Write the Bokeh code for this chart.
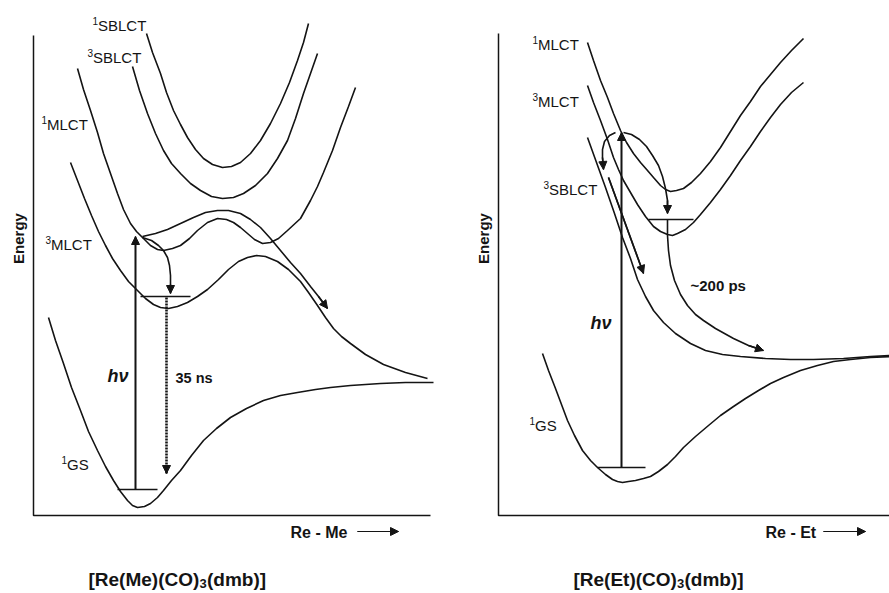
from math import pi

from bokeh.core.properties import value
from bokeh.embed import file_html
from bokeh.layouts import row
from bokeh.models import Arrow, NormalHead, Range1d
from bokeh.plotting import figure
from bokeh.resources import INLINE

FONT = "Liberation Sans"
INK = "#141414"

# ---------------------------------------------------------------------------
# [Re(Me)(CO)3(dmb)]  -- schematic potential curves, coordinate r vs energy E
# ---------------------------------------------------------------------------
me_axis_r = [33, 33, 430]
me_axis_e = [480, 0, 0]

me_1sblct_r = [146, 152, 160, 166, 173, 180, 187, 195, 203, 212, 222, 231, 240, 250, 260, 270, 280, 289, 297, 303, 308]
me_1sblct_e = [482, 463, 442, 423, 405, 391, 378, 366, 357, 351, 348, 349, 353, 362, 375, 392, 412, 433, 455, 473, 492]

me_3sblct_r = [132, 139, 147, 155, 163, 171, 180, 190, 200, 211, 222, 233, 243, 255, 267, 277, 287, 295, 303, 310, 317]
me_3sblct_e = [449, 425, 402, 382, 365, 352, 342, 332, 325, 319, 317, 318, 322, 330, 342, 357, 375, 397, 422, 442, 462]

me_1mlct_r = [77, 83, 90, 97, 103, 110, 117, 123, 130, 136, 142, 150, 157, 163, 172, 180, 189, 197, 207, 217, 226,
              233, 240, 247, 254, 262, 270, 278, 287, 300, 310, 317, 323, 332, 340, 348, 355]
me_1mlct_e = [447, 426, 405, 383, 362, 342, 322, 306, 292, 284, 278, 270, 266, 265, 267, 270, 277, 285, 293, 297, 296,
              293, 288, 282, 276, 272, 273, 277, 285, 297, 315, 329, 343, 365, 388, 409, 428]

me_3mlct_r = [70, 77, 84, 91, 98, 105, 112, 120, 128, 137, 145, 153, 160, 168, 177, 187, 197, 207, 218, 228, 238,
              247, 256, 265, 277, 288, 300, 308, 317, 325, 333, 341, 350, 365, 383, 405, 427]
me_3mlct_e = [353, 335, 317, 300, 284, 270, 257, 245, 234, 225, 217, 211, 208, 207, 209, 213, 219, 226, 236, 246, 254,
              258, 260, 259, 254, 246, 234, 223, 210, 198, 187, 179, 172, 161, 151, 143, 137]

me_gs_r = [48, 55, 63, 71, 80, 88, 97, 105, 113, 120, 127, 132, 137, 144, 150, 157, 163, 171, 180, 191, 203,
           216, 230, 246, 263, 280, 297, 315, 330, 350, 380, 405, 433]
me_gs_e = [198, 175, 152, 128, 105, 84, 65, 49, 35, 24, 15, 10, 8, 9, 12, 18, 25, 35, 45, 60, 75,
           87, 98, 107, 115, 120, 123, 126, 128, 130, 132, 133, 133]

# paths of the processes
me_cross_r = [142, 155, 167, 180, 193, 205, 217, 228, 240, 250, 260, 270, 280, 290, 300, 310, 318, 327]
me_cross_e = [279, 282, 286, 292, 298, 303, 305, 305, 302, 296, 288, 277, 265, 253, 242, 229, 219, 207]
me_isc_r = [142, 151, 158, 163, 167, 169, 170, 170, 170]
me_isc_e = [278, 275, 270, 265, 258, 250, 240, 231, 222]
me_hv_r = [135, 135]
me_hv_e = [26, 279]
me_emis_r = [166, 166]
me_emis_e = [218, 42]
me_lvl3_r = [140, 190]
me_lvl3_e = [219, 219]
me_lvl0_r = [117, 157]
me_lvl0_e = [26, 26]

me_state_sup = ["1", "3", "1", "3", "1"]
me_state_text = ["SBLCT", "SBLCT", "MLCT", "MLCT", "GS"]
me_state_r = [92, 87, 41, 45, 61]
me_state_e = [490, 458, 391, 271, 51]

# ---------------------------------------------------------------------------
# [Re(Et)(CO)3(dmb)]
# ---------------------------------------------------------------------------
et_axis_r = [498, 498, 889]
et_axis_e = [482, 0, 0]

et_1mlct_r = [587, 593, 600, 607, 613, 620, 626, 633, 640, 647, 653, 660, 665, 670, 676, 683, 691, 700, 710, 720,
              730, 740, 750, 760, 770, 780, 791, 803]
et_1mlct_e = [473, 455, 435, 418, 402, 385, 373, 362, 353, 345, 338, 330, 326, 324, 325, 327, 333, 342, 354, 368,
              384, 400, 414, 429, 441, 453, 465, 477]

et_3mlct_r = [587, 593, 600, 607, 613, 618, 623, 630, 637, 645, 653, 660, 667, 672, 677, 685, 693, 700, 710, 720,
              730, 740, 750, 760, 770, 780, 791, 803]
et_3mlct_e = [430, 413, 395, 376, 358, 346, 335, 323, 311, 299, 289, 284, 281, 280, 282, 286, 293, 301, 313, 326,
              340, 355, 369, 384, 398, 411, 423, 433]

et_3sblct_r = [587, 596, 605, 614, 622, 630, 637, 645, 653, 663, 675, 690, 705, 722, 740, 765, 790, 813, 843, 870, 890]
et_3sblct_e = [378, 353, 328, 302, 278, 257, 236, 219, 205, 193, 182, 172, 165, 161, 159, 157, 156, 156, 157, 159, 160]

et_gs_r = [542, 548, 555, 561, 567, 574, 582, 590, 597, 605, 612, 617, 622, 628, 635, 643, 650, 658, 667, 675,
           683, 695, 708, 720, 733, 745, 758, 770, 783, 800, 817, 833, 850, 870, 890]
et_gs_e = [162, 145, 127, 111, 95, 80, 65, 55, 48, 41, 36, 34, 33, 34, 35, 37, 39, 44, 51, 59,
           68, 79, 90, 100, 109, 117, 125, 132, 138, 145, 150, 154, 156, 158, 159]

et_slide_r = [608, 643]
et_slide_e = [338, 242]
et_isc_r = [615, 609, 604, 602, 602, 603]
et_isc_e = [383, 380, 374, 366, 358, 346]
et_loop_r = [623, 631, 639, 646, 652, 658, 662, 665, 667, 667]
et_loop_e = [383, 381, 376, 369, 360, 350, 339, 327, 315, 302]
et_decay_r = [667, 667, 668, 670, 674, 680, 687, 695, 703, 715, 733, 748, 763]
et_decay_e = [296, 280, 265, 250, 235, 221, 210, 201, 195, 187, 177, 170, 165]
et_hv_r = [621, 621]
et_hv_e = [48, 383]
et_lvl3_r = [648, 693]
et_lvl3_e = [296, 296]
et_lvl0_r = [597, 645]
et_lvl0_e = [48, 48]

et_state_sup = ["1", "3", "3", "1"]
et_state_text = ["MLCT", "MLCT", "SBLCT", "GS"]
et_state_r = [532, 532, 543, 529]
et_state_e = [471, 414, 326, 90]


def make_panel(width, r_start, r_end):
    p = figure(width=width, height=593, output_backend="svg", toolbar_location=None,
               x_range=Range1d(r_start, r_end), y_range=Range1d(-78, 515),
               min_border=0, background_fill_color="white", border_fill_color="white")
    p.outline_line_color = None
    p.grid.visible = False
    p.axis.visible = False
    return p


def curve(p, r, e, width=1.6):
    p.line(r, e, line_color=INK, line_width=width)


def head(p, x0, y0, x1, y1, size=8, width=1.6):
    p.add_layout(Arrow(end=NormalHead(size=size, fill_color=INK, line_color=INK, line_width=1),
                       x_start=x0, y_start=y0, x_end=x1, y_end=y1,
                       line_color=INK, line_width=width))


def arrow(p, r, e):
    curve(p, r, e)
    head(p, r[-2], e[-2], r[-1], e[-1])


def words(p, x, y, text, size, style="normal", angle=0.0, align="left", dx=0.0, dy=0.0):
    p.text([x], [y], text=[text], angle=angle, text_font=value(FONT), text_font_size=size,
           text_font_style=style, text_color=INK, text_align=align, text_baseline="middle",
           x_offset=dx, y_offset=dy)


def states(p, r, e, sup, text):
    p.text(r, e, text=sup, text_font=value(FONT), text_font_size="10px", y_offset=-5,
           text_color=INK, text_align="left", text_baseline="middle")
    p.text(r, e, text=text, text_font=value(FONT), text_font_size="15px", x_offset=5.5,
           text_color=INK, text_align="left", text_baseline="middle")


def formula(p, x, y, head_text, sub_text, tail_text, head_width):
    # compound name with a subscripted CO count
    words(p, x, y, head_text, "19px", "bold")
    words(p, x, y, sub_text, "13px", "bold", dx=head_width, dy=4)
    words(p, x, y, tail_text, "19px", "bold", dx=head_width + 7.5)


def captions(p, axis_r, axis_e, x_energy, x_coord, coord_text, arrow_start, arrow_end):
    curve(p, axis_r, axis_e, width=1.5)
    words(p, x_energy, 277, "Energy", "15px", "bold", angle=pi / 2, align="center")
    words(p, x_coord, -17, coord_text, "16px", "bold")
    p.line([arrow_start, arrow_end], [-16, -16], line_color=INK, line_width=1.2)
    head(p, arrow_start, -16, arrow_end, -16, size=8, width=1.2)


left = make_panel(460, 0, 460)
right = make_panel(429, 460, 889)

# left panel
for r, e in [(me_1sblct_r, me_1sblct_e), (me_3sblct_r, me_3sblct_e), (me_1mlct_r, me_1mlct_e),
             (me_3mlct_r, me_3mlct_e), (me_gs_r, me_gs_e), (me_lvl3_r, me_lvl3_e), (me_lvl0_r, me_lvl0_e)]:
    curve(left, r, e)
for r, e in [(me_cross_r, me_cross_e), (me_isc_r, me_isc_e), (me_hv_r, me_hv_e)]:
    arrow(left, r, e)
left.line(me_emis_r, me_emis_e, line_color=INK, line_width=2.6, line_dash="2 1")
head(left, me_emis_r[0], me_emis_e[-1] + 8, me_emis_r[-1], me_emis_e[-1])
states(left, me_state_r, me_state_e, me_state_sup, me_state_text)
words(left, 107, 140, "hν", "18px", "bold italic")
words(left, 175, 138, "35 ns", "14.5px", "bold")
captions(left, me_axis_r, me_axis_e, 18, 290, "Re - Me", 357, 398)
formula(left, 88, -64, "[Re(Me)(CO)", "3", "(dmb)]", 111)

# right panel
for r, e in [(et_1mlct_r, et_1mlct_e), (et_3mlct_r, et_3mlct_e), (et_3sblct_r, et_3sblct_e),
             (et_gs_r, et_gs_e), (et_lvl3_r, et_lvl3_e), (et_lvl0_r, et_lvl0_e)]:
    curve(right, r, e)
for r, e in [(et_slide_r, et_slide_e), (et_isc_r, et_isc_e), (et_loop_r, et_loop_e),
             (et_decay_r, et_decay_e), (et_hv_r, et_hv_e)]:
    arrow(right, r, e)
states(right, et_state_r, et_state_e, et_state_sup, et_state_text)
words(right, 590, 193, "hν", "18px", "bold italic")
words(right, 690, 230, "~200 ps", "15px", "bold")
captions(right, et_axis_r, et_axis_e, 483, 765, "Re - Et", 823, 865)
formula(right, 573, -64, "[Re(Et)(CO)", "3", "(dmb)]", 103.5)

layout = row(left, right)
open("out.html", "w").write(file_html(layout, INLINE))
